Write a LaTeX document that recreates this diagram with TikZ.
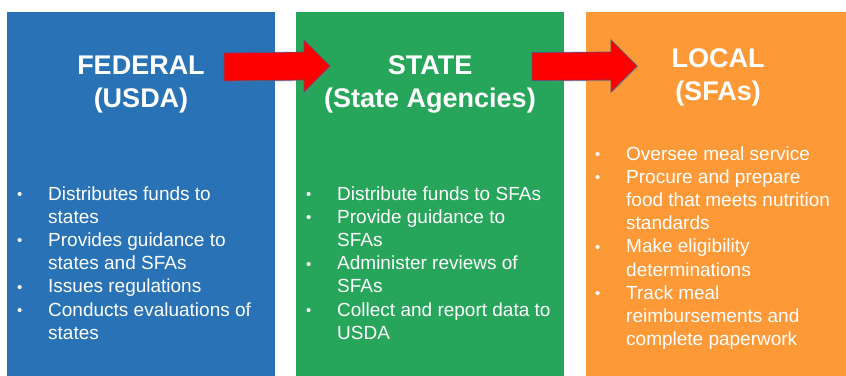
\documentclass[tikz,border=0pt]{standalone}
\usepackage{fontspec}
\setmainfont{Liberation Sans}
\usetikzlibrary{calc,shadows}
\definecolor{fedblue}{RGB}{41,114,181}
\definecolor{stgreen}{RGB}{39,166,91}
\definecolor{locorange}{RGB}{254,153,56}
\definecolor{arrowedge}{RGB}{95,80,120}
\newcommand{\blockarr}[2]{%
  \draw[barrow] ($(#1)+(0,14)$) -- ($(#2)+(-26,14)$) -- ($(#2)+(-26,26)$) -- (#2)
    -- ($(#2)+(-26,-26)$) -- ($(#2)+(-26,-14)$) -- ($(#1)+(0,-14)$) -- cycle;}
\tikzset{
  panel/.style={anchor=north west, inner sep=0pt, minimum height=370pt},
  ttl/.style={anchor=base, inner sep=0pt, text=white,
    font=\fontsize{27}{33}\selectfont\bfseries},
  blist/.style={anchor=base west, inner sep=0pt, text=white,
    font=\fontsize{19}{23.2}\selectfont},
  barrow/.style={fill=red, draw=arrowedge, line width=0.7pt, line join=miter,
    drop shadow={opacity=0.35, shadow xshift=1.2pt, shadow yshift=-1.2pt}},
}
\newcommand{\bul}{\raisebox{0.6pt}{\fontsize{15}{15}\selectfont\textbullet}}
\begin{document}
\begin{tikzpicture}[x=1pt,y=1pt]
\useasboundingbox (0,0) rectangle (846,-375);
\clip (0,0) rectangle (846,-375);
% panels
\node[panel, fill=fedblue, minimum width=268pt] (fed) at (7,-12) {};
\node[panel, fill=stgreen, minimum width=268pt] (state) at (296,-12) {};
\node[panel, fill=locorange, minimum width=262pt] (local) at (586,-12) {};
% titles
\node[ttl] (fedT) at (141,-74) {\begin{tabular}[t]{@{}c@{}}FEDERAL\\(USDA)\end{tabular}};
\node[ttl] (stateT) at (430,-74) {\begin{tabular}[t]{@{}c@{}}STATE\\(State Agencies)\end{tabular}};
\node[ttl] (localT) at (718,-67) {\begin{tabular}[t]{@{}c@{}}LOCAL\\(SFAs)\end{tabular}};
% bullet lists
\node[blist] (fedL) at (17,-200) {\begin{tabular}[t]{@{}p{31pt}@{}l@{}}
\bul & Distributes funds to\\
 & states\\
\bul & Provides guidance to\\
 & states and SFAs\\
\bul & Issues regulations\\
\bul & Conducts evaluations of\\
 & states
\end{tabular}};
\node[blist] (stateL) at (306,-200) {\begin{tabular}[t]{@{}p{31pt}@{}l@{}}
\bul & Distribute funds to SFAs\\
\bul & Provide guidance to\\
 & SFAs\\
\bul & Administer reviews of\\
 & SFAs\\
\bul & Collect and report data to\\
 & USDA
\end{tabular}};
\node[blist] (localL) at (595,-160) {\begin{tabular}[t]{@{}p{31pt}@{}l@{}}
\bul & Oversee meal service\\
\bul & Procure and prepare\\
 & food that meets nutrition\\
 & standards\\
\bul & Make eligibility\\
 & determinations\\
\bul & Track meal\\
 & reimbursements and\\
 & complete paperwork
\end{tabular}};
% arrows
\coordinate (a1s) at (224,-67);
\coordinate (a1e) at (330,-66);
\coordinate (a2s) at (532,-66.5);
\coordinate (a2e) at (637,-66);
\blockarr{a1s}{a1e}
\blockarr{a2s}{a2e}
\end{tikzpicture}
\end{document}
